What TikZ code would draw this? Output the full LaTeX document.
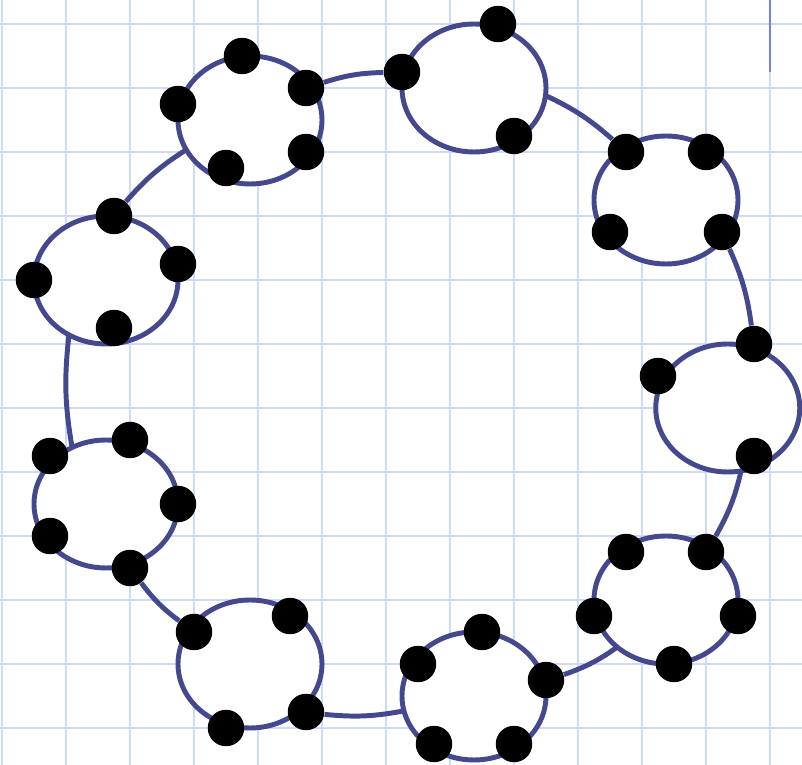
\documentclass[tikz,border=0pt]{standalone}
\usepackage{tikz}
\usetikzlibrary{positioning,shapes.geometric,backgrounds}
\definecolor{ringblue}{RGB}{68,72,142}
\definecolor{paperline}{RGB}{206,218,250}
\definecolor{edgeblue}{RGB}{112,130,240}

\begin{document}
\begin{tikzpicture}[
    blob/.style={ellipse, draw=ringblue, fill=white, line width=2.2pt, minimum width=2.25cm, minimum height=2cm, inner sep=0pt, outer sep=0pt},
    bead/.style={circle, fill=black, minimum size=0.57cm, inner sep=0pt},
    link/.style={draw=ringblue, line width=2.2pt, bend left=8},
    gridline/.style={draw=paperline, line width=0.9pt}]
    \useasboundingbox (-0.03125,-0.578125) rectangle (12.5,11.375);

    % Squared paper behind everything
    \begin{scope}[on background layer]
        \draw[gridline] (-0.03125,-0.578125) grid (12.5,11.375);
    \end{scope}
    \draw[line width=0.9pt, edgeblue] (12,11.375) -- (12,10.25);

    % Clusters (clockwise from top left)
    \node[blob] (g1) at (3.875,9.5) {};
    \node[blob] (g2) at (7.375,10) {};
    \node[blob] (g3) at (10.375,8.25) {};
    \node[blob] (g4) at (11.34,5) {};
    \node[blob] (g5) at (10.375,2) {};
    \node[blob] (g6) at (7.375,0.5) {};
    \node[blob] (g7) at (3.875,1) {};
    \node[blob] (g8) at (1.625,3.5) {};
    \node[blob] (g9) at (1.625,7) {};

    % Beads on the clusters
    \node[bead] (g1a) at (3.75,10.5) {};
    \node[bead] (g1b) at (4.75,10) {};
    \node[bead] (g1c) at (2.75,9.75) {};
    \node[bead] (g1d) at (4.75,9) {};
    \node[bead] (g1e) at (3.5,8.75) {};

    \node[bead] (g2a) at (7.75,11) {};
    \node[bead] (g2b) at (6.25,10.25) {};
    \node[bead] (g2c) at (8,9.25) {};

    \node[bead] (g3a) at (9.75,9) {};
    \node[bead] (g3b) at (11,9) {};
    \node[bead] (g3c) at (9.5,7.75) {};
    \node[bead] (g3d) at (11.25,7.75) {};

    \node[bead] (g4a) at (11.75,6) {};
    \node[bead] (g4b) at (10.25,5.5) {};
    \node[bead] (g4c) at (11.75,4.25) {};

    \node[bead] (g5a) at (9.75,2.75) {};
    \node[bead] (g5b) at (11,2.75) {};
    \node[bead] (g5c) at (9.25,1.75) {};
    \node[bead] (g5d) at (11.5,1.75) {};
    \node[bead] (g5e) at (10.5,1) {};

    \node[bead] (g6a) at (7.5,1.5) {};
    \node[bead] (g6b) at (6.5,1) {};
    \node[bead] (g6c) at (8.5,0.75) {};
    \node[bead] (g6d) at (6.75,-0.25) {};
    \node[bead] (g6e) at (8,-0.25) {};

    \node[bead] (g7a) at (4.5,1.75) {};
    \node[bead] (g7b) at (3,1.5) {};
    \node[bead] (g7c) at (4.75,0.25) {};
    \node[bead] (g7d) at (3.5,0) {};

    \node[bead] (g8a) at (2,4.5) {};
    \node[bead] (g8b) at (0.75,4.25) {};
    \node[bead] (g8c) at (2.75,3.5) {};
    \node[bead] (g8d) at (0.75,3) {};
    \node[bead] (g8e) at (2,2.5) {};

    \node[bead] (g9a) at (1.75,8) {};
    \node[bead] (g9b) at (0.5,7) {};
    \node[bead] (g9c) at (2.75,7.25) {};
    \node[bead] (g9d) at (1.75,6.25) {};

    % Ring of links, kept under the clusters
    \begin{scope}[on background layer]
        \draw[link] (g1b) to (g2b);
        \draw[link] (g2.-6) to (g3a);
        \draw[link] (g3d) to (g4a);
        \draw[link] (g4.-78) to (g5b);
        \draw[link] (g5.-136) to (g6c);
        \draw[link] (g6.-168) to (g7c);
        \draw[link] (g7b) to (g8e);
        \draw[link] (g8.121) to (g9.-124);
        \draw[link] (g9a) to (g1.-155);
    \end{scope}
\end{tikzpicture}
\end{document}
